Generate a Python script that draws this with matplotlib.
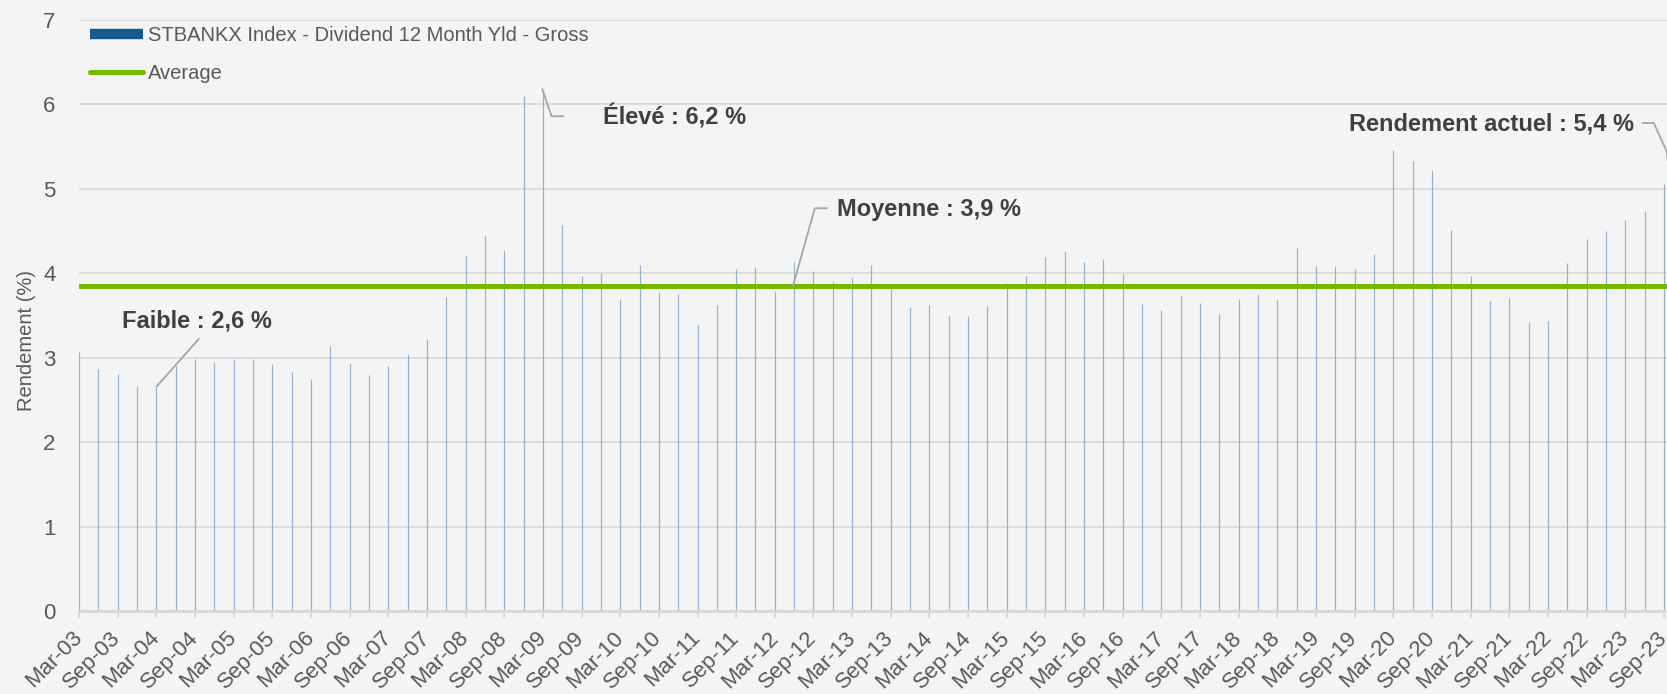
import matplotlib
matplotlib.use("Agg")
import matplotlib.pyplot as plt
from matplotlib.lines import Line2D
import numpy as np

plt.rcParams['font.family'] = ['Liberation Sans', 'DejaVu Sans']

# quarterly dividend yield (%), Mar-03 .. Sep-23
yields = [3.07, 2.87, 2.81, 2.67, 2.65, 2.90, 2.99, 2.95, 2.98, 2.99,
          2.92, 2.83, 2.75, 3.14, 2.94, 2.79, 2.90, 3.04, 3.22, 3.72,
          4.21, 4.44, 4.28, 6.10, 6.17, 4.57, 3.97, 4.00, 3.70, 4.10,
          3.78, 3.76, 3.39, 3.62, 4.05, 4.07, 3.79, 4.13, 4.03, 3.91,
          3.94, 4.10, 3.81, 3.60, 3.63, 3.50, 3.49, 3.61, 3.88, 3.97,
          4.19, 4.26, 4.13, 4.17, 3.99, 3.64, 3.56, 3.73, 3.65, 3.52,
          3.70, 3.75, 3.68, 4.30, 4.09, 4.09, 4.05, 4.23, 5.46, 5.33,
          5.22, 4.51, 3.97, 3.67, 3.71, 3.42, 3.43, 4.12, 4.41, 4.50,
          4.63, 4.74, 5.06]
average = 3.85
current = 5.4

tick_labels = []
for yr in range(3, 24):
    tick_labels.append("Mar-%02d" % yr)
    tick_labels.append("Sep-%02d" % yr)

x = np.arange(len(yields))

fig = plt.figure(figsize=(16.67, 6.94), dpi=100)
fig.patch.set_facecolor('#f4f4f4')
ax = fig.add_axes([79/1667, 83/694, 1 - 79/1667, (611 - 20)/694])
ax.set_facecolor('#f4f4f4')

# very thin bars -> drawn as 1px stems so they all look the same
ax.vlines(x, 0, yields, color='#8fb2d2', linewidth=0.85, zorder=2)
ax.axhline(average, color='#76b900', linewidth=3.6, zorder=3)

ax.set_xlim(0, 82.16)
ax.set_ylim(0, 7)
ax.set_yticks(range(0, 8))
ax.set_xticks(x[::2])
ax.set_xticklabels(tick_labels, rotation=45, ha='right', va='center',
                   rotation_mode='anchor', fontsize=16, color='#595959')
ax.tick_params(axis='x', length=5, width=1.5, color='#d9d9d9', pad=12)
ax.tick_params(axis='y', length=0, labelsize=16, labelcolor='#595959', pad=17)
ax.yaxis.grid(True, color='#d9d9d9', linewidth=1.2, zorder=0)
ax.set_axisbelow(True)
for s in ['top', 'right', 'left']:
    ax.spines[s].set_visible(False)
ax.spines['bottom'].set_color('#d9d9d9')
ax.spines['bottom'].set_linewidth(2)
ax.set_ylabel('Rendement (%)', fontsize=14.5, color='#595959')
ax.yaxis.set_label_coords(-0.027, 0.458)

handles = [Line2D([0], [0], color='#1a5a8a', linewidth=7.5, solid_capstyle='butt'),
           Line2D([0], [0], color='#76b900', linewidth=3.6, solid_capstyle='round')]
leg = ax.legend(handles, ['STBANKX Index - Dividend 12 Month Yld - Gross', 'Average'],
                loc='upper left', bbox_to_anchor=(0.002, 1.004), frameon=False,
                fontsize=14.5, handlelength=2.6, handletextpad=0.25,
                labelspacing=0.95, borderaxespad=0)
for t in leg.get_texts():
    t.set_color('#595959')

# annotations
lc = '#a6a6a6'
tc = '#404040'
fs = 17
ax.plot([4.02, 6.19], [2.66, 3.22], color=lc, lw=1.3, zorder=4, clip_on=False)
ax.text(2.2, 3.43, 'Faible : 2,6 %', fontsize=fs, fontweight='bold', color=tc,
        va='center', ha='left')

ax.plot([23.97, 24.45, 25.05], [6.18, 5.86, 5.86], color=lc, lw=1.3, zorder=4, clip_on=False)
ax.text(27.1, 5.85, 'Élevé : 6,2 %', fontsize=fs, fontweight='bold', color=tc,
        va='center', ha='left')

ax.plot([36.94, 38.07, 38.68], [average, 4.77, 4.77], color=lc, lw=1.3, zorder=4, clip_on=False)
ax.text(39.2, 4.76, 'Moyenne : 3,9 %', fontsize=fs, fontweight='bold', color=tc,
        va='center', ha='left')

ax.plot([80.91, 81.48, 82.15, 82.4], [5.78, 5.78, 5.44, 4.9], color=lc, lw=1.3,
        zorder=4, clip_on=False)
ax.text(80.45, 5.77, 'Rendement actuel : %s %%' % str(current).replace('.', ','),
        fontsize=fs, fontweight='bold', color=tc, va='center', ha='right')

fig.savefig('out.png', dpi=100, facecolor=fig.get_facecolor())
